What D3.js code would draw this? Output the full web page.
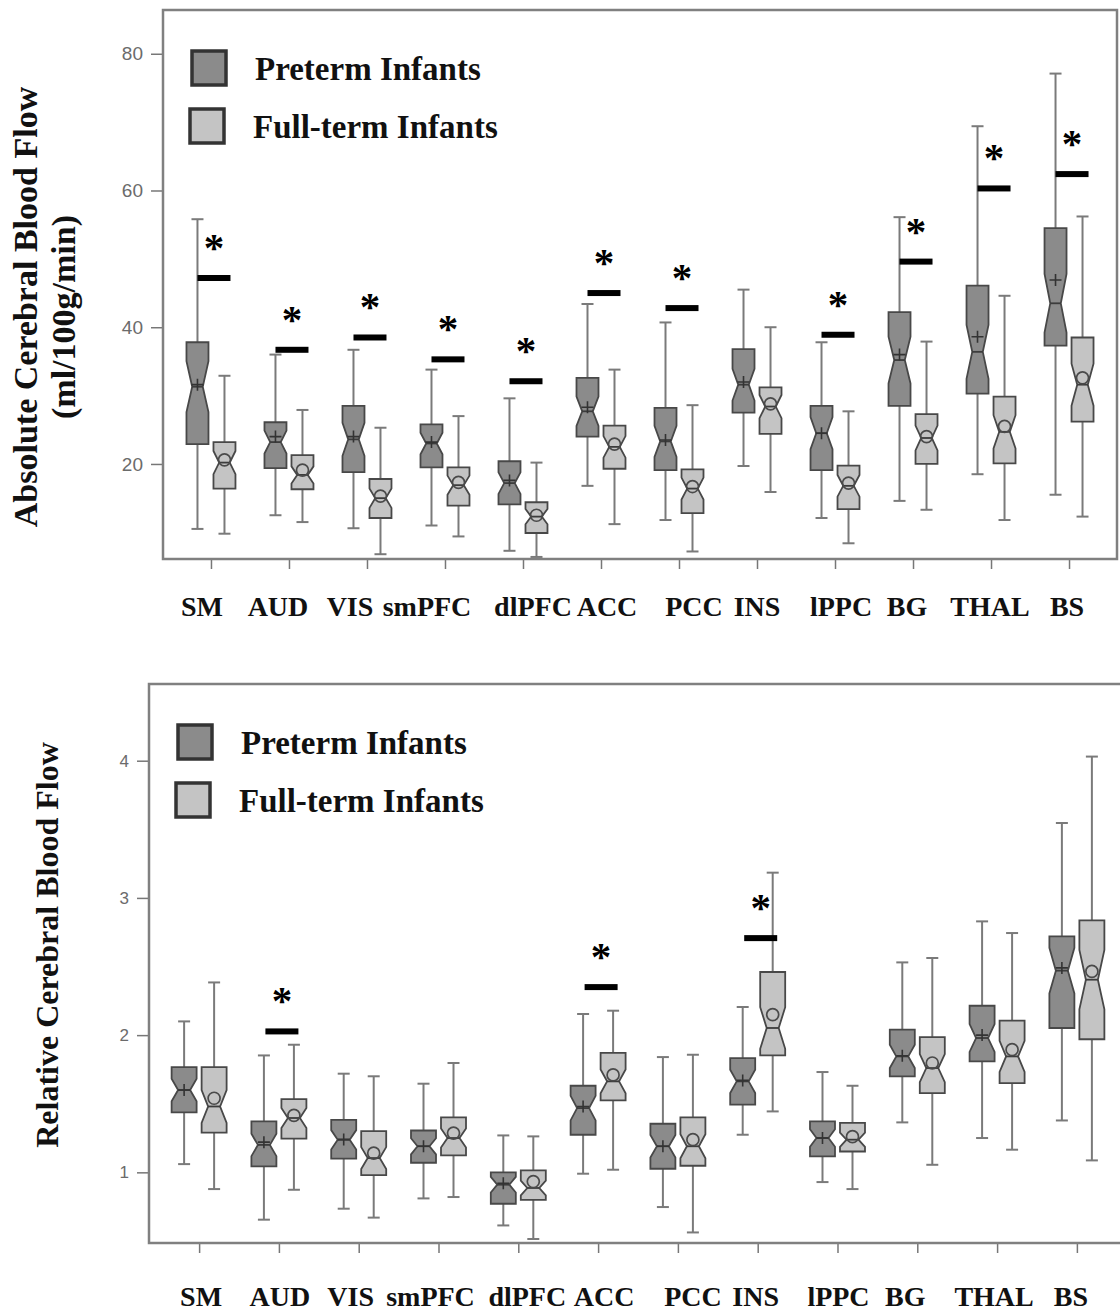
<!DOCTYPE html>
<html>
<head>
<meta charset="utf-8">
<script src="https://cdn.jsdelivr.net/npm/d3@7"></script>
<style>
  body { margin: 0; background: #fff; }
  svg { display: block; }
</style>
</head>
<body>
<svg id="chart" width="1120" height="1311"></svg>
<script>
const regions = ["SM", "AUD", "VIS", "smPFC", "dlPFC", "ACC", "PCC", "INS", "lPPC", "BG", "THAL", "BS"];
const groups = ["Preterm Infants", "Full-term Infants"];

// absolute CBF, one row per region: [low whisker, q1, median, q3, high whisker]
const absPreterm = [
  [10.5, 22.9, 31.3, 37.8, 55.8], [12.5, 19.4, 23.2, 26.1, 36.0], [10.6, 18.8, 23.6, 28.5, 36.7],
  [11.0, 19.5, 23.0, 25.8, 33.8], [7.3, 14.1, 17.2, 20.4, 29.6], [16.8, 24.0, 27.7, 32.6, 43.4],
  [11.8, 19.1, 23.3, 28.2, 40.7], [19.7, 27.5, 31.6, 36.8, 45.5], [12.1, 19.1, 24.5, 28.5, 37.8],
  [14.6, 28.5, 35.2, 42.2, 56.1], [18.5, 30.3, 36.4, 46.1, 69.4], [15.5, 37.3, 43.5, 54.5, 77.1]
];
const absFullterm = [
  [9.8, 16.4, 20.2, 23.2, 32.9], [11.5, 16.3, 18.4, 21.3, 27.9], [6.8, 12.1, 15.0, 17.8, 25.3],
  [9.4, 13.9, 16.9, 19.5, 27.0], [6.4, 9.9, 12.3, 14.4, 20.2], [11.2, 19.3, 22.5, 25.6, 33.8],
  [7.2, 12.8, 16.4, 19.2, 28.6], [15.9, 24.4, 28.4, 31.2, 40.0], [8.4, 13.4, 16.8, 19.75, 27.7],
  [13.3, 20.0, 23.8, 27.3, 37.9], [11.8, 20.1, 24.7, 29.85, 44.6], [12.3, 26.2, 31.6, 38.5, 56.2]
];
const absPretermMean = [31.6, 24.0, 24.0, 23.2, 17.6, 28.3, 23.5, 32.0, 24.5, 36.0, 38.6, 46.9];
const absFulltermMean = [20.6, 19.1, 15.3, 17.3, 12.5, 22.9, 16.7, 28.8, 17.2, 24.0, 25.5, 32.6];
const absSigRegions = ["SM", "AUD", "VIS", "smPFC", "dlPFC", "ACC", "PCC", "lPPC", "BG", "THAL", "BS"];
const absSigLevel = [47.2, 36.7, 38.5, 35.3, 32.1, 45.0, 42.8, 38.9, 49.6, 60.3, 62.4];
const absTicks = [20, 40, 60, 80];

// relative CBF
const relPreterm = [
  [1.06, 1.437, 1.60, 1.767, 2.10], [0.655, 1.043, 1.20, 1.371, 1.852], [0.735, 1.10, 1.237, 1.383, 1.719],
  [0.81, 1.07, 1.19, 1.305, 1.646], [0.613, 0.771, 0.91, 1.00, 1.269], [0.99, 1.274, 1.468, 1.631, 2.154],
  [0.747, 1.026, 1.19, 1.354, 1.84], [1.274, 1.493, 1.663, 1.833, 2.205], [0.929, 1.116, 1.25, 1.371, 1.731],
  [1.364, 1.70, 1.845, 2.04, 2.53], [1.25, 1.808, 1.979, 2.214, 2.829], [1.378, 2.052, 2.47, 2.719, 3.546]
];
const relFullterm = [
  [0.878, 1.29, 1.48, 1.767, 2.384], [0.873, 1.245, 1.396, 1.534, 1.93], [0.67, 0.98, 1.104, 1.30, 1.70],
  [0.82, 1.123, 1.25, 1.40, 1.797], [0.514, 0.80, 0.886, 1.014, 1.262], [1.019, 1.524, 1.663, 1.87, 2.178],
  [0.562, 1.048, 1.19, 1.40, 1.857], [1.444, 1.852, 2.052, 2.46, 3.184], [0.878, 1.152, 1.238, 1.36, 1.631],
  [1.055, 1.577, 1.76, 1.986, 2.562], [1.165, 1.65, 1.845, 2.105, 2.744], [1.087, 1.97, 2.404, 2.836, 4.03]
];
const relPretermMean = [1.60, 1.22, 1.24, 1.19, 0.92, 1.48, 1.19, 1.67, 1.25, 1.85, 2.00, 2.49];
const relFulltermMean = [1.54, 1.415, 1.14, 1.286, 0.933, 1.71, 1.238, 2.15, 1.26, 1.797, 1.894, 2.464];
const relSigRegions = ["AUD", "ACC", "INS"];
const relSigLevel = [2.027, 2.35, 2.707];
const relTicks = [1, 2, 3, 4];

// sample size per group, used for the notch half-height 1.58*IQR/sqrt(n)
const N_PRETERM = 40;
const N_FULLTERM = 40;

const fills = ["#8b8b8b", "#c4c4c4"];
const serif = "'Liberation Serif', 'Times New Roman', serif";
const sans = "'Liberation Sans', Arial, sans-serif";

const svg = d3.select("#chart");
svg.append("rect").attr("width", 1120).attr("height", 1311).attr("fill", "#fff");

function drawPanel(cfg) {
  const g = svg.append("g");
  const x = d3.scalePoint().domain(regions).range([cfg.left, cfg.right]).padding(cfg.pad);
  const y = d3.scaleLinear().domain(cfg.domain).range([cfg.bottom, cfg.top]);

  // y axis
  const yAxis = g.append("g")
    .attr("transform", `translate(${cfg.left},0)`)
    .call(d3.axisLeft(y).tickValues(cfg.ticks).tickSize(12).tickPadding(8).tickFormat(d3.format("d")));
  yAxis.select(".domain").remove();
  yAxis.selectAll("line").attr("stroke", "#777").attr("stroke-width", 1.5);
  yAxis.selectAll("text").attr("fill", "#6b6b6b").style("font-family", sans).style("font-size", cfg.tickFont + "px");

  // x axis
  const xAxis = g.append("g")
    .attr("transform", `translate(0,${cfg.bottom})`)
    .call(d3.axisBottom(x).tickSize(10).tickFormat(""));
  xAxis.select(".domain").remove();
  xAxis.selectAll("line").attr("stroke", "#777").attr("stroke-width", 1.5);

  // category labels (hand-placed in the original, so nudged a little off their ticks)
  g.append("g").selectAll("text").data(regions).join("text")
    .attr("x", (d, i) => x(d) + cfg.labelNudge[i])
    .attr("y", cfg.labelY)
    .attr("text-anchor", "middle")
    .style("font-family", serif).style("font-weight", "bold").style("font-size", "28px")
    .attr("fill", "#111")
    .text(d => d);

  // frame
  g.append("rect")
    .attr("x", cfg.left).attr("y", cfg.top)
    .attr("width", cfg.right - cfg.left).attr("height", cfg.bottom - cfg.top)
    .attr("fill", "none").attr("stroke", "#808080").attr("stroke-width", 2.5);

  // y title
  cfg.title.forEach(line => {
    g.append("text")
      .attr("transform", `translate(${line.x},${line.y}) rotate(-90)`)
      .attr("text-anchor", "middle")
      .style("font-family", serif).style("font-weight", "bold").style("font-size", cfg.titleFont + "px")
      .attr("fill", "#111")
      .text(line.text);
  });

  // boxes
  const series = [
    { stats: cfg.pre, mean: cfg.preMean, n: N_PRETERM, dx: -cfg.offset, fill: fills[0], marker: "plus" },
    { stats: cfg.full, mean: cfg.fullMean, n: N_FULLTERM, dx: cfg.offset, fill: fills[1], marker: "circle" }
  ];
  const w = cfg.boxW;
  series.forEach(s => {
    const bg = g.append("g");
    regions.forEach((r, i) => {
      const [lo, q1, med, q3, hi] = s.stats[i];
      const cx = x(r) + s.dx;
      const notch = 1.58 * (q3 - q1) / Math.sqrt(s.n);
      const nTop = Math.min(q3, med + notch);
      const nBot = Math.max(q1, med - notch);
      const xl = cx - w / 2, xr = cx + w / 2, ni = w * 0.26;

      // whiskers
      [[hi, q3], [q1, lo]].forEach(([a, b]) => {
        bg.append("line").attr("x1", cx).attr("x2", cx).attr("y1", y(a)).attr("y2", y(b))
          .attr("stroke", "#7a7a7a").attr("stroke-width", 2);
      });
      [hi, lo].forEach(v => {
        bg.append("line").attr("x1", cx - 6).attr("x2", cx + 6).attr("y1", y(v)).attr("y2", y(v))
          .attr("stroke", "#7a7a7a").attr("stroke-width", 2);
      });

      const p = d3.path();
      p.moveTo(xl, y(q3)); p.lineTo(xr, y(q3)); p.lineTo(xr, y(nTop));
      p.lineTo(xr - ni, y(med)); p.lineTo(xr, y(nBot)); p.lineTo(xr, y(q1));
      p.lineTo(xl, y(q1)); p.lineTo(xl, y(nBot)); p.lineTo(xl + ni, y(med));
      p.lineTo(xl, y(nTop)); p.closePath();
      bg.append("path").attr("d", p.toString())
        .attr("fill", s.fill).attr("stroke", "#484848").attr("stroke-width", 1.8);
      bg.append("line").attr("x1", xl + ni).attr("x2", xr - ni).attr("y1", y(med)).attr("y2", y(med))
        .attr("stroke", "#3c3c3c").attr("stroke-width", 1.8);

      const my = y(s.mean[i]);
      if (s.marker === "plus") {
        bg.append("path").attr("d", `M${cx - 6},${my}H${cx + 6}M${cx},${my - 6}V${my + 6}`)
          .attr("stroke", "#333").attr("stroke-width", 1.6).attr("fill", "none");
      } else {
        bg.append("circle").attr("cx", cx).attr("cy", my).attr("r", 6)
          .attr("fill", "none").attr("stroke", "#4a4a4a").attr("stroke-width", 1.7);
      }
    });
  });

  // significance marks
  const sig = g.append("g");
  cfg.sigRegions.forEach((r, i) => {
    const cx = x(r) + 3;
    const sy = y(cfg.sigLevel[i]);
    sig.append("rect").attr("x", cx - 16.5).attr("y", sy - 3).attr("width", 33).attr("height", 6).attr("fill", "#000");
    sig.append("text").attr("x", cx).attr("y", sy - 17)
      .attr("text-anchor", "middle")
      .style("font-family", serif).style("font-weight", "bold").style("font-size", "41px")
      .attr("fill", "#000").text("*");
  });

  // legend
  const lg = g.append("g");
  groups.forEach((name, i) => {
    lg.append("rect")
      .attr("x", cfg.left + 29 - i * 2).attr("y", cfg.top + 41 + i * 58)
      .attr("width", 34).attr("height", 34)
      .attr("fill", fills[i]).attr("stroke", "#333").attr("stroke-width", 3.5);
    lg.append("text")
      .attr("x", cfg.left + 92 - i * 2).attr("y", cfg.top + 70 + i * 58)
      .style("font-family", serif).style("font-weight", "bold").style("font-size", "33px")
      .attr("fill", "#111").text(name);
  });
}

drawPanel({
  left: 163, right: 1117, top: 10, bottom: 559, pad: 0.615,
  domain: [6.1, 86.4], ticks: absTicks, tickFont: 19,
  pre: absPreterm, full: absFullterm, preMean: absPretermMean, fullMean: absFulltermMean,
  sigRegions: absSigRegions, sigLevel: absSigLevel,
  boxW: 22, offset: 13.5, labelY: 616,
  labelNudge: [-9, -11, -17, -18, 10, 6, 15, 0, 6, -6, -1, -2],
  titleFont: 34,
  title: [
    { text: "Absolute Cerebral Blood Flow", x: 37, y: 307 },
    { text: "(ml/100g/min)", x: 75, y: 317 }
  ]
});

drawPanel({
  left: 149, right: 1127, top: 684, bottom: 1243, pad: 0.628,
  domain: [0.485, 4.559], ticks: relTicks, tickFont: 17,
  pre: relPreterm, full: relFullterm, preMean: relPretermMean, fullMean: relFulltermMean,
  sigRegions: relSigRegions, sigLevel: relSigLevel,
  boxW: 25, offset: 15, labelY: 1306,
  labelNudge: [2, 1, -8, -8, 9, 6, 15, -2, 1, -12, -3, -6],
  titleFont: 32,
  title: [
    { text: "Relative Cerebral Blood Flow", x: 58, y: 945 }
  ]
});
</script>
</body>
</html>
